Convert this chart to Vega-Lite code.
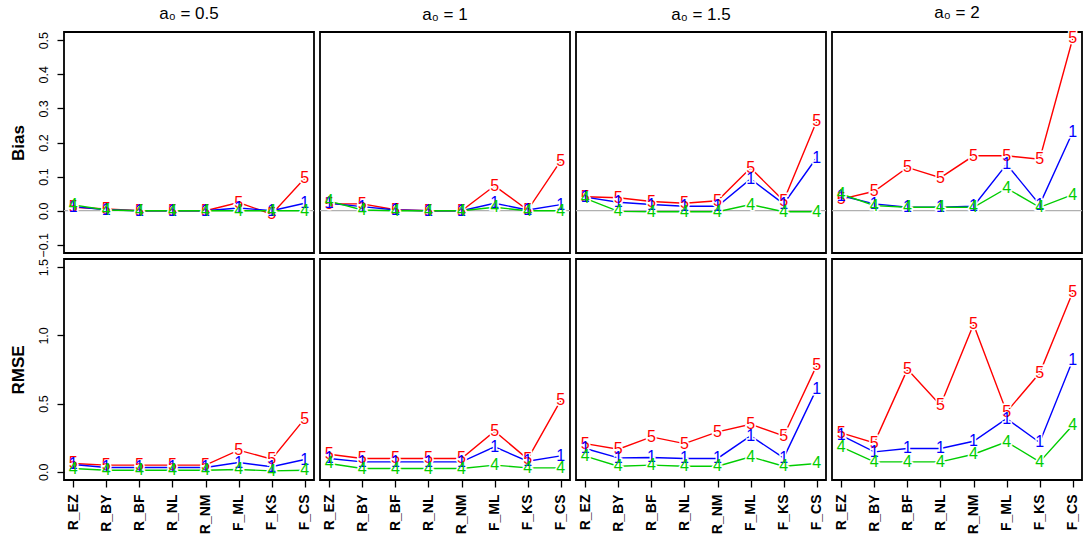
{
  "$schema": "https://vega.github.io/schema/vega-lite/v6.json",
  "padding": {"left": 8, "top": 3, "right": 0, "bottom": 0},
  "background": "white",
  "datasets": {
    "sim": [
      {"m": "Bias", "a": "0.5", "x": "R_EZ", "5": 0.010, "1": 0.012, "4": 0.017},
      {"m": "Bias", "a": "0.5", "x": "R_BY", "5": 0.005, "1": 0.003, "4": 0.002},
      {"m": "Bias", "a": "0.5", "x": "R_BF", "5": 0.000, "1": 0.000, "4": 0.000},
      {"m": "Bias", "a": "0.5", "x": "R_NL", "5": 0.000, "1": 0.000, "4": 0.000},
      {"m": "Bias", "a": "0.5", "x": "R_NM", "5": 0.000, "1": 0.000, "4": 0.000},
      {"m": "Bias", "a": "0.5", "x": "F_ML", "5": 0.024, "1": 0.008, "4": 0.000},
      {"m": "Bias", "a": "0.5", "x": "F_KS", "5": -0.010, "1": 0.000, "4": 0.000},
      {"m": "Bias", "a": "0.5", "x": "F_CS", "5": 0.095, "1": 0.022, "4": 0.000},
      {"m": "Bias", "a": "1", "x": "R_EZ", "5": 0.020, "1": 0.022, "4": 0.028},
      {"m": "Bias", "a": "1", "x": "R_BY", "5": 0.020, "1": 0.012, "4": 0.002},
      {"m": "Bias", "a": "1", "x": "R_BF", "5": 0.003, "1": 0.002, "4": 0.000},
      {"m": "Bias", "a": "1", "x": "R_NL", "5": 0.000, "1": 0.000, "4": 0.000},
      {"m": "Bias", "a": "1", "x": "R_NM", "5": 0.000, "1": 0.000, "4": 0.000},
      {"m": "Bias", "a": "1", "x": "F_ML", "5": 0.073, "1": 0.022, "4": 0.010},
      {"m": "Bias", "a": "1", "x": "F_KS", "5": 0.002, "1": 0.002, "4": 0.000},
      {"m": "Bias", "a": "1", "x": "F_CS", "5": 0.146, "1": 0.018, "4": 0.000},
      {"m": "Bias", "a": "1.5", "x": "R_EZ", "5": 0.041, "1": 0.040, "4": 0.036},
      {"m": "Bias", "a": "1.5", "x": "R_BY", "5": 0.038, "1": 0.025, "4": -0.002},
      {"m": "Bias", "a": "1.5", "x": "R_BF", "5": 0.027, "1": 0.018, "4": -0.003},
      {"m": "Bias", "a": "1.5", "x": "R_NL", "5": 0.022, "1": 0.013, "4": -0.003},
      {"m": "Bias", "a": "1.5", "x": "R_NM", "5": 0.029, "1": 0.013, "4": -0.003},
      {"m": "Bias", "a": "1.5", "x": "F_ML", "5": 0.125, "1": 0.093, "4": 0.018},
      {"m": "Bias", "a": "1.5", "x": "F_KS", "5": 0.029, "1": 0.020, "4": -0.003},
      {"m": "Bias", "a": "1.5", "x": "F_CS", "5": 0.263, "1": 0.156, "4": -0.003},
      {"m": "Bias", "a": "2", "x": "R_EZ", "5": 0.034, "1": 0.044, "4": 0.049},
      {"m": "Bias", "a": "2", "x": "R_BY", "5": 0.057, "1": 0.020, "4": 0.015},
      {"m": "Bias", "a": "2", "x": "R_BF", "5": 0.127, "1": 0.010, "4": 0.010},
      {"m": "Bias", "a": "2", "x": "R_NL", "5": 0.097, "1": 0.010, "4": 0.010},
      {"m": "Bias", "a": "2", "x": "R_NM", "5": 0.161, "1": 0.013, "4": 0.010},
      {"m": "Bias", "a": "2", "x": "F_ML", "5": 0.161, "1": 0.136, "4": 0.066},
      {"m": "Bias", "a": "2", "x": "F_KS", "5": 0.151, "1": 0.018, "4": 0.010},
      {"m": "Bias", "a": "2", "x": "F_CS", "5": 0.505, "1": 0.231, "4": 0.047},
      {"m": "RMSE", "a": "0.5", "x": "R_EZ", "5": 0.061, "1": 0.054, "4": 0.024},
      {"m": "RMSE", "a": "0.5", "x": "R_BY", "5": 0.049, "1": 0.032, "4": 0.012},
      {"m": "RMSE", "a": "0.5", "x": "R_BF", "5": 0.049, "1": 0.032, "4": 0.012},
      {"m": "RMSE", "a": "0.5", "x": "R_NL", "5": 0.049, "1": 0.032, "4": 0.012},
      {"m": "RMSE", "a": "0.5", "x": "R_NM", "5": 0.049, "1": 0.032, "4": 0.012},
      {"m": "RMSE", "a": "0.5", "x": "F_ML", "5": 0.159, "1": 0.068, "4": 0.017},
      {"m": "RMSE", "a": "0.5", "x": "F_KS", "5": 0.093, "1": 0.037, "4": 0.007},
      {"m": "RMSE", "a": "0.5", "x": "F_CS", "5": 0.390, "1": 0.090, "4": 0.012},
      {"m": "RMSE", "a": "1", "x": "R_EZ", "5": 0.129, "1": 0.098, "4": 0.061},
      {"m": "RMSE", "a": "1", "x": "R_BY", "5": 0.098, "1": 0.073, "4": 0.024},
      {"m": "RMSE", "a": "1", "x": "R_BF", "5": 0.098, "1": 0.073, "4": 0.024},
      {"m": "RMSE", "a": "1", "x": "R_NL", "5": 0.098, "1": 0.073, "4": 0.024},
      {"m": "RMSE", "a": "1", "x": "R_NM", "5": 0.098, "1": 0.073, "4": 0.024},
      {"m": "RMSE", "a": "1", "x": "F_ML", "5": 0.298, "1": 0.183, "4": 0.049},
      {"m": "RMSE", "a": "1", "x": "F_KS", "5": 0.093, "1": 0.078, "4": 0.029},
      {"m": "RMSE", "a": "1", "x": "F_CS", "5": 0.524, "1": 0.117, "4": 0.029},
      {"m": "RMSE", "a": "1.5", "x": "R_EZ", "5": 0.207, "1": 0.171, "4": 0.115},
      {"m": "RMSE", "a": "1.5", "x": "R_BY", "5": 0.166, "1": 0.102, "4": 0.041},
      {"m": "RMSE", "a": "1.5", "x": "R_BF", "5": 0.256, "1": 0.105, "4": 0.049},
      {"m": "RMSE", "a": "1.5", "x": "R_NL", "5": 0.207, "1": 0.098, "4": 0.041},
      {"m": "RMSE", "a": "1.5", "x": "R_NM", "5": 0.293, "1": 0.098, "4": 0.041},
      {"m": "RMSE", "a": "1.5", "x": "F_ML", "5": 0.349, "1": 0.263, "4": 0.110},
      {"m": "RMSE", "a": "1.5", "x": "F_KS", "5": 0.263, "1": 0.102, "4": 0.041},
      {"m": "RMSE", "a": "1.5", "x": "F_CS", "5": 0.780, "1": 0.610, "4": 0.061},
      {"m": "RMSE", "a": "2", "x": "R_EZ", "5": 0.285, "1": 0.268, "4": 0.183},
      {"m": "RMSE", "a": "2", "x": "R_BY", "5": 0.212, "1": 0.146, "4": 0.073},
      {"m": "RMSE", "a": "2", "x": "R_BF", "5": 0.751, "1": 0.171, "4": 0.073},
      {"m": "RMSE", "a": "2", "x": "R_NL", "5": 0.488, "1": 0.171, "4": 0.073},
      {"m": "RMSE", "a": "2", "x": "R_NM", "5": 1.080, "1": 0.224, "4": 0.129},
      {"m": "RMSE", "a": "2", "x": "F_ML", "5": 0.439, "1": 0.390, "4": 0.220},
      {"m": "RMSE", "a": "2", "x": "F_KS", "5": 0.724, "1": 0.215, "4": 0.073},
      {"m": "RMSE", "a": "2", "x": "F_CS", "5": 1.317, "1": 0.817, "4": 0.341}
    ]
  },
  "spacing": -3,
  "vconcat": [
    {
      "bounds": "flush",
      "spacing": 6,
      "hconcat": [
        {
          "title": "a₀ = 0.5",
          "data": {"name": "sim"},
          "transform": [{"filter": "datum.m == 'Bias' && datum.a == '0.5'"}, {"fold": ["5", "1", "4"], "as": ["s", "v"]}],
          "width": 250, "height": 221,
          "encoding": {
            "x": {"field": "x", "type": "ordinal", "sort": null, "scale": {"type": "point", "padding": 0.28}, "axis": null},
            "y": {"field": "v", "type": "quantitative", "title": "Bias", "scale": {"domain": [-0.124, 0.524], "nice": false, "zero": false}, "axis": {"values": [-0.1, 0, 0.1, 0.2, 0.3, 0.4, 0.5], "format": ".1f"}},
            "color": {"field": "s", "type": "nominal", "scale": {"domain": ["5", "1", "4"], "range": ["#ff0000", "#0000ff", "#00cd00"]}, "legend": null}
          },
          "layer": [
            {"transform": [{"filter": "datum.x == 'R_EZ' && datum.s == '5'"}], "mark": {"type": "rule", "color": "#b0b0b0", "strokeWidth": 1.2}, "encoding": {"x": null, "y": {"datum": 0, "type": "quantitative"}, "color": null}},
            {"mark": {"type": "line", "strokeWidth": 1.4}},
            {"mark": {"type": "text", "fontSize": 16, "fill": "white", "stroke": "white", "strokeWidth": 3}, "encoding": {"text": {"field": "s"}, "color": null}},
            {"mark": {"type": "text", "fontSize": 16}, "encoding": {"text": {"field": "s"}}}
          ]
        },
        {
          "title": "a₀ = 1",
          "data": {"name": "sim"},
          "transform": [{"filter": "datum.m == 'Bias' && datum.a == '1'"}, {"fold": ["5", "1", "4"], "as": ["s", "v"]}],
          "width": 250, "height": 221,
          "encoding": {
            "x": {"field": "x", "type": "ordinal", "sort": null, "scale": {"type": "point", "padding": 0.28}, "axis": null},
            "y": {"field": "v", "type": "quantitative", "scale": {"domain": [-0.124, 0.524], "nice": false, "zero": false}, "axis": null},
            "color": {"field": "s", "type": "nominal", "scale": {"domain": ["5", "1", "4"], "range": ["#ff0000", "#0000ff", "#00cd00"]}, "legend": null}
          },
          "layer": [
            {"transform": [{"filter": "datum.x == 'R_EZ' && datum.s == '5'"}], "mark": {"type": "rule", "color": "#b0b0b0", "strokeWidth": 1.2}, "encoding": {"x": null, "y": {"datum": 0, "type": "quantitative"}, "color": null}},
            {"mark": {"type": "line", "strokeWidth": 1.4}},
            {"mark": {"type": "text", "fontSize": 16, "fill": "white", "stroke": "white", "strokeWidth": 3}, "encoding": {"text": {"field": "s"}, "color": null}},
            {"mark": {"type": "text", "fontSize": 16}, "encoding": {"text": {"field": "s"}}}
          ]
        },
        {
          "title": "a₀ = 1.5",
          "data": {"name": "sim"},
          "transform": [{"filter": "datum.m == 'Bias' && datum.a == '1.5'"}, {"fold": ["5", "1", "4"], "as": ["s", "v"]}],
          "width": 250, "height": 221,
          "encoding": {
            "x": {"field": "x", "type": "ordinal", "sort": null, "scale": {"type": "point", "padding": 0.28}, "axis": null},
            "y": {"field": "v", "type": "quantitative", "scale": {"domain": [-0.124, 0.524], "nice": false, "zero": false}, "axis": null},
            "color": {"field": "s", "type": "nominal", "scale": {"domain": ["5", "1", "4"], "range": ["#ff0000", "#0000ff", "#00cd00"]}, "legend": null}
          },
          "layer": [
            {"transform": [{"filter": "datum.x == 'R_EZ' && datum.s == '5'"}], "mark": {"type": "rule", "color": "#b0b0b0", "strokeWidth": 1.2}, "encoding": {"x": null, "y": {"datum": 0, "type": "quantitative"}, "color": null}},
            {"mark": {"type": "line", "strokeWidth": 1.4}},
            {"mark": {"type": "text", "fontSize": 16, "fill": "white", "stroke": "white", "strokeWidth": 3}, "encoding": {"text": {"field": "s"}, "color": null}},
            {"mark": {"type": "text", "fontSize": 16}, "encoding": {"text": {"field": "s"}}}
          ]
        },
        {
          "title": "a₀ = 2",
          "data": {"name": "sim"},
          "transform": [{"filter": "datum.m == 'Bias' && datum.a == '2'"}, {"fold": ["5", "1", "4"], "as": ["s", "v"]}],
          "width": 250, "height": 221,
          "encoding": {
            "x": {"field": "x", "type": "ordinal", "sort": null, "scale": {"type": "point", "padding": 0.28}, "axis": null},
            "y": {"field": "v", "type": "quantitative", "scale": {"domain": [-0.124, 0.524], "nice": false, "zero": false}, "axis": null},
            "color": {"field": "s", "type": "nominal", "scale": {"domain": ["5", "1", "4"], "range": ["#ff0000", "#0000ff", "#00cd00"]}, "legend": null}
          },
          "layer": [
            {"transform": [{"filter": "datum.x == 'R_EZ' && datum.s == '5'"}], "mark": {"type": "rule", "color": "#b0b0b0", "strokeWidth": 1.2}, "encoding": {"x": null, "y": {"datum": 0, "type": "quantitative"}, "color": null}},
            {"mark": {"type": "line", "strokeWidth": 1.4}},
            {"mark": {"type": "text", "fontSize": 16, "fill": "white", "stroke": "white", "strokeWidth": 3}, "encoding": {"text": {"field": "s"}, "color": null}},
            {"mark": {"type": "text", "fontSize": 16}, "encoding": {"text": {"field": "s"}}}
          ]
        }
      ]
    },
    {
      "bounds": "flush",
      "spacing": 6,
      "hconcat": [
        {
          "data": {"name": "sim"},
          "transform": [{"filter": "datum.m == 'RMSE' && datum.a == '0.5'"}, {"fold": ["5", "1", "4"], "as": ["s", "v"]}],
          "width": 250, "height": 221,
          "encoding": {
            "x": {"field": "x", "type": "ordinal", "sort": null, "title": null, "scale": {"type": "point", "padding": 0.28}},
            "y": {"field": "v", "type": "quantitative", "title": "RMSE", "scale": {"domain": [-0.06, 1.56], "nice": false, "zero": false}, "axis": {"values": [0, 0.5, 1, 1.5], "format": ".1f"}},
            "color": {"field": "s", "type": "nominal", "scale": {"domain": ["5", "1", "4"], "range": ["#ff0000", "#0000ff", "#00cd00"]}, "legend": null}
          },
          "layer": [
            {"mark": {"type": "line", "strokeWidth": 1.4}},
            {"mark": {"type": "text", "fontSize": 16, "fill": "white", "stroke": "white", "strokeWidth": 3}, "encoding": {"text": {"field": "s"}, "color": null}},
            {"mark": {"type": "text", "fontSize": 16}, "encoding": {"text": {"field": "s"}}}
          ]
        },
        {
          "data": {"name": "sim"},
          "transform": [{"filter": "datum.m == 'RMSE' && datum.a == '1'"}, {"fold": ["5", "1", "4"], "as": ["s", "v"]}],
          "width": 250, "height": 221,
          "encoding": {
            "x": {"field": "x", "type": "ordinal", "sort": null, "title": null, "scale": {"type": "point", "padding": 0.28}},
            "y": {"field": "v", "type": "quantitative", "scale": {"domain": [-0.06, 1.56], "nice": false, "zero": false}, "axis": null},
            "color": {"field": "s", "type": "nominal", "scale": {"domain": ["5", "1", "4"], "range": ["#ff0000", "#0000ff", "#00cd00"]}, "legend": null}
          },
          "layer": [
            {"mark": {"type": "line", "strokeWidth": 1.4}},
            {"mark": {"type": "text", "fontSize": 16, "fill": "white", "stroke": "white", "strokeWidth": 3}, "encoding": {"text": {"field": "s"}, "color": null}},
            {"mark": {"type": "text", "fontSize": 16}, "encoding": {"text": {"field": "s"}}}
          ]
        },
        {
          "data": {"name": "sim"},
          "transform": [{"filter": "datum.m == 'RMSE' && datum.a == '1.5'"}, {"fold": ["5", "1", "4"], "as": ["s", "v"]}],
          "width": 250, "height": 221,
          "encoding": {
            "x": {"field": "x", "type": "ordinal", "sort": null, "title": null, "scale": {"type": "point", "padding": 0.28}},
            "y": {"field": "v", "type": "quantitative", "scale": {"domain": [-0.06, 1.56], "nice": false, "zero": false}, "axis": null},
            "color": {"field": "s", "type": "nominal", "scale": {"domain": ["5", "1", "4"], "range": ["#ff0000", "#0000ff", "#00cd00"]}, "legend": null}
          },
          "layer": [
            {"mark": {"type": "line", "strokeWidth": 1.4}},
            {"mark": {"type": "text", "fontSize": 16, "fill": "white", "stroke": "white", "strokeWidth": 3}, "encoding": {"text": {"field": "s"}, "color": null}},
            {"mark": {"type": "text", "fontSize": 16}, "encoding": {"text": {"field": "s"}}}
          ]
        },
        {
          "data": {"name": "sim"},
          "transform": [{"filter": "datum.m == 'RMSE' && datum.a == '2'"}, {"fold": ["5", "1", "4"], "as": ["s", "v"]}],
          "width": 250, "height": 221,
          "encoding": {
            "x": {"field": "x", "type": "ordinal", "sort": null, "title": null, "scale": {"type": "point", "padding": 0.28}},
            "y": {"field": "v", "type": "quantitative", "scale": {"domain": [-0.06, 1.56], "nice": false, "zero": false}, "axis": null},
            "color": {"field": "s", "type": "nominal", "scale": {"domain": ["5", "1", "4"], "range": ["#ff0000", "#0000ff", "#00cd00"]}, "legend": null}
          },
          "layer": [
            {"mark": {"type": "line", "strokeWidth": 1.4}},
            {"mark": {"type": "text", "fontSize": 16, "fill": "white", "stroke": "white", "strokeWidth": 3}, "encoding": {"text": {"field": "s"}, "color": null}},
            {"mark": {"type": "text", "fontSize": 16}, "encoding": {"text": {"field": "s"}}}
          ]
        }
      ]
    }
  ],
  "config": {
    "font": "Liberation Sans",
    "view": {"stroke": "black", "strokeWidth": 1.8},
    "title": {"fontSize": 17, "fontWeight": "normal", "color": "black", "offset": 8, "font": "Liberation Sans"},
    "axis": {
      "domain": false,
      "grid": false,
      "tickSize": 7,
      "tickColor": "black",
      "tickWidth": 1.3,
      "labelColor": "black",
      "labelFont": "Liberation Sans",
      "titleFont": "Liberation Sans",
      "titleColor": "black"
    },
    "axisX": {
      "labelAngle": -90,
      "labelAlign": "right",
      "labelBaseline": "middle",
      "labelFontWeight": "bold",
      "labelFontSize": 14,
      "labelPadding": 7
    },
    "axisY": {
      "labelAngle": -90,
      "labelAlign": "center",
      "labelBaseline": "bottom",
      "labelFontSize": 12.5,
      "labelPadding": 7,
      "titleFontSize": 17,
      "titleFontWeight": "bold",
      "titlePadding": 10
    }
  }
}
